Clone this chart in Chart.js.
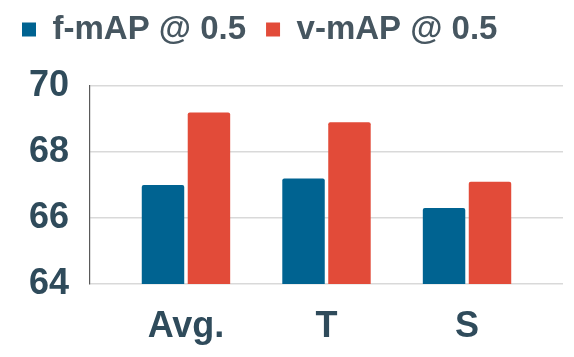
<!DOCTYPE html>
<html>
<head>
<meta charset="utf-8">
<script src="https://cdn.jsdelivr.net/npm/chart.js@4/dist/chart.umd.min.js"></script>
<style>
  html, body { margin: 0; padding: 0; background: #fff; }
  #box { width: 574px; height: 357px; }
</style>
</head>
<body>
<div id="box"><canvas id="plots"></canvas></div>
<script>
/* Values */
var categories = ["Avg.", "T", "S"];
var fMap = [67.0, 67.2, 66.3];
var vMap = [69.2, 68.9, 67.1];
var yTicks = [64, 66, 68, 70];
var seriesNames = ["f-mAP @ 0.5", "v-mAP @ 0.5"];

var FONT = "'Liberation Sans', Arial, sans-serif";

// bars sit on a linear x axis so the groups can be pulled in from the edges
function toPoints(values) {
    return values.map(function (v, i) { return { x: i, y: v }; });
}

// give the legend a fixed height so the plot starts lower
var legendHeight = {
    id: 'legendHeight',
    beforeInit: function (chart) {
        var fit = chart.legend.fit;
        chart.legend.fit = function () {
            fit.call(this);
            this.height = 93;
        };
    }
};

function loadChart() {
    var ctx = document.getElementById("plots").getContext("2d");

    new Chart(ctx, {
        type: 'bar',
        data: {
            datasets: [{
                label: seriesNames[0],
                data: toPoints(fMap),
                backgroundColor: '#006391',
                borderRadius: 2,
                categoryPercentage: 0.654,
                barPercentage: 0.924
            }, {
                label: seriesNames[1],
                data: toPoints(vMap),
                backgroundColor: '#e24b39',
                borderRadius: 2,
                categoryPercentage: 0.654,
                barPercentage: 0.924
            }]
        },
        plugins: [legendHeight],
        options: {
            responsive: true,
            maintainAspectRatio: false,
            animation: false,
            layout: { padding: { left: 2, right: 11, top: -7, bottom: 10 } },
            plugins: {
                tooltip: { enabled: false },
                legend: {
                    position: 'top',
                    align: 'start',
                    labels: {
                        boxWidth: 14,
                        boxHeight: 14,
                        padding: 20,
                        color: '#465660',
                        font: { family: FONT, size: 33, weight: 'bold' }
                    }
                }
            },
            scales: {
                x: {
                    type: 'linear',
                    offset: false,
                    min: -0.683,
                    max: 2.683,
                    grid: { display: false, drawTicks: false },
                    border: { display: false },
                    afterBuildTicks: function (scale) {
                        scale.ticks = categories.map(function (c, i) { return { value: i }; });
                    },
                    afterFit: function (scale) {
                        scale.height = 63;
                    },
                    ticks: {
                        padding: 21,
                        maxRotation: 0,
                        color: '#2f4b5b',
                        font: { family: FONT, size: 36, weight: 'bold' },
                        callback: function (value) { return categories[value]; }
                    }
                },
                y: {
                    min: yTicks[0],
                    max: yTicks[yTicks.length - 1],
                    grid: { color: '#d9d9d9', lineWidth: 1.5, drawTicks: false },
                    border: { display: true, color: '#5a5a5a', width: 1.2 },
                    afterBuildTicks: function (scale) {
                        scale.ticks = yTicks.map(function (v) { return { value: v }; });
                    },
                    afterFit: function (scale) {
                        scale.width = 88;
                    },
                    ticks: {
                        padding: 21,
                        color: '#2f4b5b',
                        font: { family: FONT, size: 36, weight: 'bold' }
                    }
                }
            }
        }
    });
}

loadChart();
</script>
</body>
</html>
